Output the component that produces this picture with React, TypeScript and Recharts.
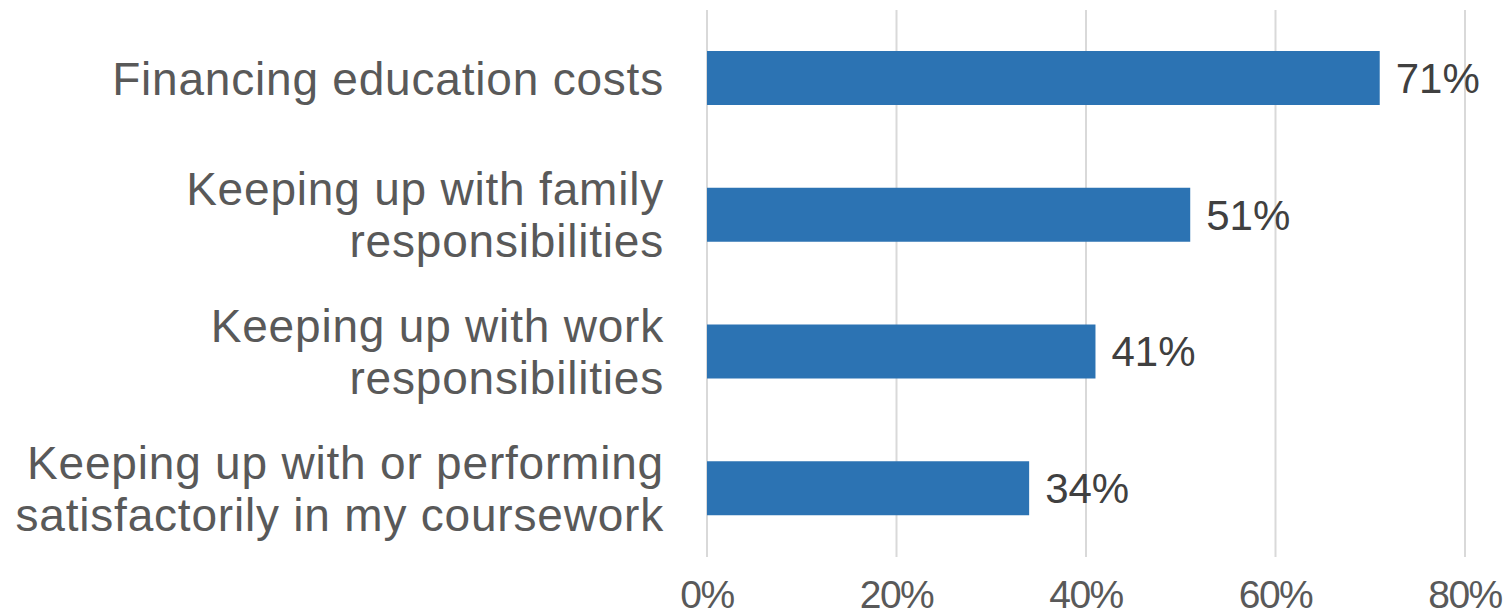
import React from "react";
import { BarChart, Bar, XAxis, YAxis, CartesianGrid, LabelList } from "recharts";

const categories = [
  "Financing education costs",
  "Keeping up with family responsibilities",
  "Keeping up with work responsibilities",
  "Keeping up with or performing satisfactorily in my coursework",
];
const categoryLines = [
  ["Financing education costs"],
  ["Keeping up with family", "responsibilities"],
  ["Keeping up with work", "responsibilities"],
  ["Keeping up with or performing", "satisfactorily in my coursework"],
];
const values = [0.71, 0.51, 0.41, 0.34];
const xTicks = [0, 0.2, 0.4, 0.6, 0.8];

const data = categories.map((name, i) => ({ name, value: values[i] }));

const FONT = "'Liberation Sans', Arial, sans-serif";

const CategoryTick = (props: any) => {
  const { y, payload } = props;
  const idx = categories.indexOf(payload.value);
  const lines = categoryLines[idx] || [payload.value];
  const lh = 52;
  const start = -((lines.length - 1) * lh) / 2;
  return (
    <text
      x={664}
      y={y}
      textAnchor="end"
      fill="#595959"
      fontSize={46}
      fontFamily={FONT}
      style={{ letterSpacing: "0.8px" }}
    >
      {lines.map((l: string, i: number) => (
        <tspan key={i} x={664} y={y + start + i * lh} dy="0.355em">
          {l}
        </tspan>
      ))}
    </text>
  );
};

const XTick = (props: any) => {
  const { x, y, payload } = props;
  return (
    <text
      x={x}
      y={y + 43}
      textAnchor="middle"
      fill="#595959"
      fontSize={39}
      fontFamily={FONT}
      style={{ letterSpacing: "-1.5px" }}
    >
      {`${Math.round(payload.value * 100)}%`}
    </text>
  );
};

export default function App() {
  return (
    <div style={{ position: "absolute", left: 0, top: 0, background: "#fff" }}>
      <BarChart
        width={1511}
        height={616}
        data={data}
        layout="vertical"
        margin={{ top: 10, right: 46, bottom: 0, left: 0 }}
      >
        <CartesianGrid horizontal={false} vertical={true} stroke="#D9D9D9" strokeWidth={2} />
        <XAxis
          type="number"
          domain={[0, 0.8]}
          ticks={xTicks}
          axisLine={false}
          tickLine={false}
          height={59}
          interval={0}
          tick={<XTick />}
        />
        <YAxis
          type="category"
          dataKey="name"
          width={707}
          axisLine={false}
          tickLine={false}
          tick={<CategoryTick />}
          interval={0}
        />
        <Bar dataKey="value" fill="#2C73B3" barSize={54} isAnimationActive={false}>
          <LabelList
            dataKey="value"
            position="right"
            offset={16}
            fill="#404040"
            fontSize={42}
            fontFamily={FONT}
            formatter={(v: number) => `${Math.round(v * 100)}%`}
          />
        </Bar>
      </BarChart>
    </div>
  );
}
